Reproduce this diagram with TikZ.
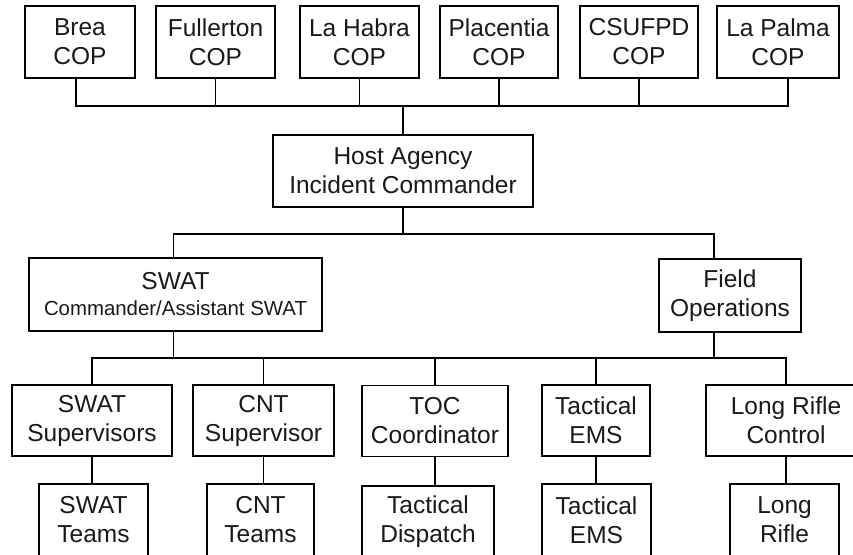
\documentclass[tikz,border=0pt]{standalone}
\usepackage{fontspec}
\setmainfont{Liberation Sans}

\begin{document}
\begin{tikzpicture}[x=1pt, y=-1pt,
        unit/.style={draw, line width=1.8pt, align=center, inner sep=0pt,
            text=black!90, font=\fontsize{24.5}{29}\selectfont},
        link/.style={line width=1.8pt}]
            \useasboundingbox (0,0) rectangle (853,554);
            \clip (0,0) rectangle (853,554);

            % chiefs of police
            \node[unit, minimum width=110, minimum height=72] (brea) at (80,42) {Brea\\COP};
            \node[unit, minimum width=119, minimum height=72] (fullerton) at (215.5,42) {Fullerton\\COP};
            \node[unit, minimum width=119, minimum height=72] (lahabra) at (359.5,42) {La Habra\\COP};
            \node[unit, minimum width=118, minimum height=72] (placentia) at (499,42) {Placentia\\COP};
            \node[unit, minimum width=118, minimum height=72] (csufpd) at (639,42) {CSUFPD\\COP};
            \node[unit, minimum width=122, minimum height=72] (lapalma) at (778,42) {La Palma\\COP};

            \node[unit, minimum width=260, minimum height=72] (host) at (403,171) {Host Agency\\Incident Commander};

            \node[unit, minimum width=293, minimum height=73] (swat) at (175.5,294.5)
                {SWAT\\[-3pt]{\fontsize{20.4}{25}\selectfont Commander/Assistant SWAT}};
            \node[unit, minimum width=142, minimum height=73] (field) at (730,295.5) {Field\\Operations};

            % supervisors
            \node[unit, minimum width=160, minimum height=71] (swatsup) at (92,420.5) {SWAT\\Supervisors};
            \node[unit, minimum width=141, minimum height=71] (cntsup) at (263.5,420.5) {CNT\\Supervisor};
            \node[unit, minimum width=146, minimum height=71] (toc) at (435,421) {TOC\\Coordinator};
            \node[unit, minimum width=108, minimum height=71] (tems) at (596,420.5) {Tactical\\EMS};
            \node[unit, minimum width=160, minimum height=71] (lrc) at (786,420.5) {Long Rifle\\Control};

            % teams
            \node[unit, minimum width=109, minimum height=72] (swatteam) at (93.5,520) {SWAT\\Teams};
            \node[unit, minimum width=107, minimum height=72] (cntteam) at (260.5,520) {CNT\\Teams};
            \node[unit, minimum width=132, minimum height=72] (dispatch) at (428,522) {Tactical\\Dispatch};
            \node[unit, minimum width=109, minimum height=72] (temsteam) at (596.5,520) {Tactical\\EMS};
            \node[unit, minimum width=109, minimum height=72] (rifle) at (784.5,520) {Long\\Rifle};

            \draw[link] (host.north) -- ++(0,-28) coordinate (topbus);
            \draw[link] ([xshift=-4]brea.south) |- (topbus);
            \foreach \n in {fullerton,lahabra,placentia,csufpd}
                \draw[link] (\n.south) |- (topbus);
            \draw[link] ([xshift=10]lapalma.south) |- (topbus);

            \draw[link] (host.south) -- ++(0,26) coordinate (midbus);
            \draw[link] ([xshift=-2]swat.north) |- (midbus);
            \draw[link] ([xshift=-16]field.north) |- (midbus);

            \draw[link] ([xshift=-2]swat.south) -- ++(0,26) coordinate (lowbus);
            \draw[link] ([xshift=-16]field.south) |- (lowbus);
            \foreach \n in {swatsup,cntsup,toc,tems,lrc}
                \draw[link] (\n.north) |- (lowbus);

            \draw[link] (swatsup.south) -- (swatsup.south |- swatteam.north);
            \draw[link] (cntsup.south) -- (cntsup.south |- cntteam.north);
            \draw[link] (toc.south) -- (toc.south |- dispatch.north);
            \draw[link] (tems.south) -- (tems.south |- temsteam.north);
            \draw[link] (lrc.south) -- (lrc.south |- rifle.north);
        \end{tikzpicture}
\end{document}
